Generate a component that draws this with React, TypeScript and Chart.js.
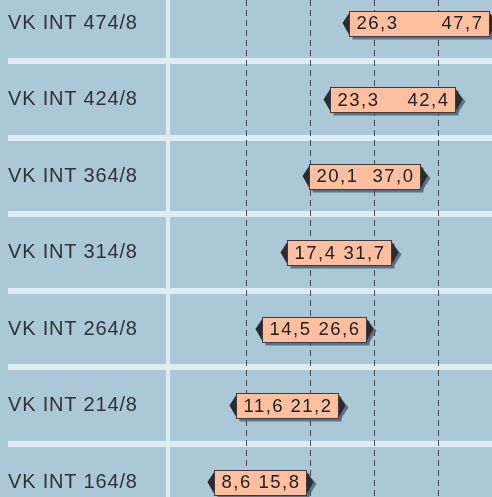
import React, { useEffect, useRef } from "react";
import { Chart, registerables } from "chart.js";

Chart.register(...registerables);

const categories = [
  "VK INT 474/8",
  "VK INT 424/8",
  "VK INT 364/8",
  "VK INT 314/8",
  "VK INT 264/8",
  "VK INT 214/8",
  "VK INT 164/8",
];
const lowValues = [26.3, 23.3, 20.1, 17.4, 14.5, 11.6, 8.6];
const highValues = [47.7, 42.4, 37.0, 31.7, 26.6, 21.2, 15.8];
const gridTicks = [10, 20, 30, 40];

const BG = "#aac8d5";
const SEP = "#ddedf3";
const fmt = (v: number) => v.toFixed(1).replace(".", ",");

const rowSeparators = {
  id: "rowSeparators",
  beforeDraw(chart: any) {
    const { ctx, width } = chart;
    const ys = chart.scales.y;
    ctx.save();
    ctx.fillStyle = SEP;
    for (let i = -1; i < categories.length; i++) {
      const y = ys.getPixelForValue(i + 0.5);
      ctx.fillRect(0, Math.round(y) - 3, width, 6);
    }
    ctx.restore();
    (ctx as any).letterSpacing = "0.8px";
  },
};

const boxLabels = {
  id: "boxLabels",
  afterDatasetsDraw(chart: any) {
    const { ctx } = chart;
    const meta = chart.getDatasetMeta(0);
    ctx.save();
    ctx.font = '18.5px "Liberation Sans", Arial, sans-serif';
    (ctx as any).letterSpacing = "1.5px";
    meta.data.forEach((el: any, i: number) => {
      const a = Math.min(el.x, el.base);
      const b = Math.max(el.x, el.base);
      const cy = el.y;
      const lo = fmt(lowValues[i]);
      const hi = fmt(highValues[i]);
      const wL = ctx.measureText(lo).width;
      const wH = ctx.measureText(hi).width;
      const pad = 7;
      const w = Math.max(b - a + 3, wL + wH + 2 * pad + 6);
      const c = (a + b) / 2;
      const left = Math.round(c - w / 2) + 0.5;
      const right = Math.round(c + w / 2) + 0.5;
      const h = 25;
      const top = Math.round(cy - h / 2) + 0.5;
      const bottom = top + h;
      // shadows
      ctx.fillStyle = "rgba(70,85,105,0.75)";
      ctx.fillRect(left + 3, top + 3, right - left, h);
      ctx.beginPath();
      ctx.moveTo(left + 2, top + 4);
      ctx.lineTo(left - 4, cy + 2);
      ctx.lineTo(left + 2, bottom + 1);
      ctx.closePath();
      ctx.fill();
      ctx.beginPath();
      ctx.moveTo(right + 2, top + 4);
      ctx.lineTo(right + 10, cy + 2);
      ctx.lineTo(right + 2, bottom + 1);
      ctx.closePath();
      ctx.fill();
      // arrows
      ctx.fillStyle = "#2a2c30";
      ctx.beginPath();
      ctx.moveTo(left, top + 1);
      ctx.lineTo(left - 7, cy);
      ctx.lineTo(left, bottom - 1);
      ctx.closePath();
      ctx.fill();
      ctx.beginPath();
      ctx.moveTo(right, top + 1);
      ctx.lineTo(right + 7, cy);
      ctx.lineTo(right, bottom - 1);
      ctx.closePath();
      ctx.fill();
      // box
      ctx.fillStyle = "#fdbf9f";
      ctx.fillRect(left, top, right - left, h);
      ctx.strokeStyle = "#3c3c40";
      ctx.lineWidth = 1;
      ctx.strokeRect(left, top, right - left, h);
      // text
      ctx.fillStyle = "#222";
      ctx.textBaseline = "middle";
      ctx.textAlign = "left";
      ctx.fillText(lo, left + pad, cy + 1);
      ctx.textAlign = "right";
      ctx.fillText(hi, right - pad + 1, cy + 1);
    });
    ctx.restore();
  },
};

export default function App() {
  const ref = useRef<HTMLCanvasElement | null>(null);
  useEffect(() => {
    if (!ref.current) return;
    const chart = new Chart(ref.current, {
      type: "bar",
      data: {
        datasets: [
          {
            data: lowValues.map((l, i) => ({ x: [l, highValues[i]], y: i })) as any,
            backgroundColor: "rgba(0,0,0,0)",
            borderWidth: 0,
          },
        ],
      },
      options: {
        animation: false,
        responsive: false,
        indexAxis: "y",
        layout: { padding: 0 },
        plugins: { legend: { display: false }, tooltip: { enabled: false } },
        scales: {
          x: {
            type: "linear",
            position: "bottom",
            offset: false,
            min: -2.1875,
            max: 48.4375,
            afterBuildTicks: (s: any) => {
              s.ticks = gridTicks.map((v) => ({ value: v }));
            },
            afterFit: (s: any) => {
              s.height = 0;
              s.paddingLeft = 0;
              s.paddingRight = 0;
            },
            ticks: { display: false },
            grid: {
              color: "rgba(45,48,55,0.85)",
              lineWidth: 1,
              drawTicks: false,
              tickLength: 0,
              offset: false,
            },
            border: { display: false, dash: [6, 4] },
          },
          y: {
            type: "linear",
            reverse: true,
            offset: false,
            min: -0.3007,
            max: 6.196,
            afterBuildTicks: (s: any) => {
              s.ticks = categories.map((_, i) => ({ value: i }));
            },
            afterFit: (s: any) => {
              s.width = 160;
              s.paddingTop = 0;
              s.paddingBottom = 0;
            },
            ticks: {
              callback: (v: any) => categories[Math.round(Number(v))] ?? "",
              crossAlign: "far",
              color: "#303236",
              font: { family: '"Liberation Sans", Arial, sans-serif', size: 20 },
            },
            grid: { display: false, drawTicks: false, offset: false },
            border: { display: true, color: SEP, width: 4 },
          },
        },
      },
      plugins: [rowSeparators, boxLabels],
    });
    return () => chart.destroy();
  }, []);
  return (
    <>
      <style>{`html,body{overflow:hidden;background:${BG};}body{margin:0 0 0 8px;}`}</style>
      <canvas ref={ref} width={484} height={497} style={{ display: "block" }} />
    </>
  );
}
